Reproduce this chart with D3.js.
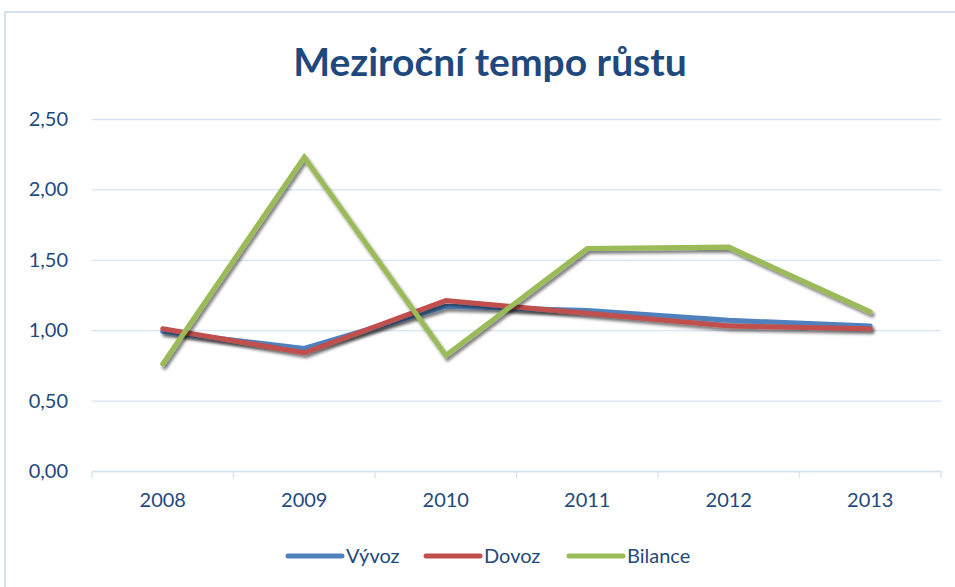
<!DOCTYPE html>
<html lang="cs">
<head>
<meta charset="utf-8">
<title>Meziroční tempo růstu</title>
<script src="https://d3js.org/d3.v7.min.js"></script>
<style>
  body { margin: 0; background: #fff; }
  svg text { font-family: Lato, "Open Sans", sans-serif; fill: #1F497D; }
</style>
</head>
<body>
<svg id="chart" width="955" height="587"></svg>
<script>
  // data
  const years = ["2008", "2009", "2010", "2011", "2012", "2013"];
  const vyvoz = [0.99, 0.87, 1.17, 1.14, 1.07, 1.03];
  const dovoz = [1.01, 0.84, 1.21, 1.12, 1.03, 1.01];
  const bilance = [0.76, 2.23, 0.82, 1.58, 1.59, 1.13];
  const yTicks = [0, 0.5, 1, 1.5, 2, 2.5];

  const series = [
    { name: "Vývoz", values: vyvoz, color: "#4F81BD" },
    { name: "Dovoz", values: dovoz, color: "#C0504D" },
    { name: "Bilance", values: bilance, color: "#9BBB59" }
  ];

  const svg = d3.select("#chart");
  const margin = { top: 119, right: 14, bottom: 116, left: 92 };
  const width = 955, height = 587;

  // drop shadow like the office chart
  const defs = svg.append("defs");
  const f = defs.append("filter").attr("id", "shadow")
      .attr("x", "-5%").attr("y", "-5%").attr("width", "115%").attr("height", "120%");
  f.append("feDropShadow")
      .attr("dx", 2).attr("dy", 3).attr("stdDeviation", 1.6)
      .attr("flood-color", "#000").attr("flood-opacity", 0.5);

  // outer frame
  svg.append("rect")
      .attr("x", 5).attr("y", 12)
      .attr("width", 960).attr("height", 600)
      .style("fill", "none")
      .style("stroke", "#D3E1F1")
      .style("stroke-width", 2);

  svg.append("text")
      .attr("x", 490).attr("y", 76)
      .attr("text-anchor", "middle")
      .style("font-size", "39px")
      .style("font-weight", "bold")
      .text("Meziroční tempo růstu");

  let x = d3.scaleBand()
      .domain(years)
      .range([margin.left, width - margin.right]);

  let y = d3.scaleLinear()
      .domain([0, 2.5])
      .range([height - margin.bottom, margin.top]);

  // gridlines + y labels
  let yAxis = svg.append("g")
      .attr("transform", `translate(${margin.left},0)`)
      .call(d3.axisLeft(y)
          .tickValues(yTicks)
          .tickSize(-(width - margin.left - margin.right))
          .tickPadding(24)
          .tickFormat(d => d3.format(".2f")(d).replace(".", ",")));
  yAxis.select(".domain").remove();
  yAxis.selectAll(".tick line").style("stroke", "#D6E3F2").style("stroke-width", 1.3);
  yAxis.selectAll(".tick text").style("font-size", "20px").style("fill", "#1F497D");

  // x axis
  let xAxis = svg.append("g")
      .attr("transform", `translate(0,${y(0)})`)
      .call(d3.axisBottom(x).tickSize(0).tickPadding(22));
  xAxis.select(".domain").style("stroke", "#D6E3F2").style("stroke-width", 1.5);
  xAxis.selectAll(".tick text").style("font-size", "20px").style("fill", "#1F497D");
  // category separators
  xAxis.selectAll(".sep")
      .data(years.concat(["end"]))
      .join("line")
      .attr("x1", (d, i) => margin.left + i * x.bandwidth())
      .attr("x2", (d, i) => margin.left + i * x.bandwidth())
      .attr("y1", 0).attr("y2", 7)
      .style("stroke", "#D6E3F2").style("stroke-width", 1.3);

  let line = d3.line()
      .x((d, i) => x(years[i]) + x.bandwidth() / 2)
      .y(d => y(d));

  svg.append("g")
      .selectAll(".line")
      .data(series)
      .join("path")
      .attr("class", "line")
      .attr("d", d => line(d.values))
      .attr("filter", "url(#shadow)")
      .style("fill", "none")
      .style("stroke", d => d.color)
      .style("stroke-width", 5)
      .style("stroke-linejoin", "miter")
      .style("stroke-linecap", "round");

  // legend
  const legendX = [288, 426, 569];
  let legend = svg.append("g")
      .selectAll("g")
      .data(series)
      .join("g")
      .attr("transform", (d, i) => `translate(${legendX[i]},556)`);
  legend.append("line")
      .attr("x1", 0).attr("x2", 54)
      .style("stroke", d => d.color)
      .style("stroke-width", 5)
      .style("stroke-linecap", "round");
  legend.append("text")
      .attr("x", 58).attr("dy", "0.35em")
      .style("font-size", "20px")
      .text(d => d.name);
</script>
</body>
</html>
